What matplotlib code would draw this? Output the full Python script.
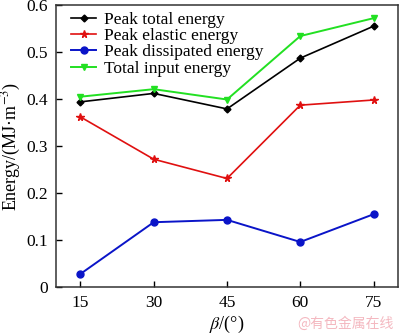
import matplotlib
matplotlib.use("Agg")
import matplotlib.pyplot as plt

# dip angle beta (deg)
beta = [15, 30, 45, 60, 75]

peak_total = [0.394, 0.412, 0.379, 0.487, 0.555]
peak_elastic = [0.362, 0.272, 0.231, 0.387, 0.398]
peak_dissipated = [0.028, 0.138, 0.143, 0.096, 0.155]
total_input = [0.405, 0.421, 0.399, 0.534, 0.572]

x_ticks = [15, 30, 45, 60, 75]
y_ticks = [0, 0.1, 0.2, 0.3, 0.4, 0.5, 0.6]
y_tick_labels = ["0", "0.1", "0.2", "0.3", "0.4", "0.5", "0.6"]

plt.rcParams["font.family"] = ["Liberation Serif", "DejaVu Serif"]
plt.rcParams["mathtext.fontset"] = "stix"

fig = plt.figure(figsize=(4.0, 3.35), dpi=100)
ax = fig.add_axes([0.14, 0.143, 0.855, 0.842])

ax.plot(beta, peak_total, color="black", marker="D", markersize=3.5, lw=1.2,
        label="Peak total energy")
ax.plot(beta, peak_elastic, color="#e01010", marker="*", markersize=5.5, lw=1.2,
        label="Peak elastic energy")
ax.plot(beta, peak_dissipated, color="#0a14c8", marker="o", markersize=5, lw=1.4,
        label="Peak dissipated energy")
ax.plot(beta, total_input, color="#22e022", marker="v", markersize=5, lw=1.4,
        label="Total input energy")

ax.set_xlim(10, 80)
ax.set_ylim(0, 0.6)
ax.set_xticks(x_ticks)
ax.set_yticks(y_ticks)
ax.set_yticklabels(y_tick_labels)
ax.tick_params(direction="in", length=4, width=1, labelsize=12.5, pad=6)
for sp in ax.spines.values():
    sp.set_linewidth(1.1)
    sp.set_color("#333333")

ax.set_xlabel(r"$\it{\beta}$/(°)", fontsize=13, labelpad=2)
ax.set_ylabel(r"Energy/(MJ·m$^{-3}$)", fontsize=13, labelpad=2)

ax.legend(loc="upper left", frameon=False, fontsize=12.5, handlelength=1.4,
          handletextpad=0.45, labelspacing=0.0, borderaxespad=0.0,
          bbox_to_anchor=(0.025, 1.0))

fig.text(0.985, 0.012, "@有色金属在线", color="#f4b8c0", fontsize=10,
         ha="right", va="bottom", family=["Noto Sans CJK SC", "DejaVu Sans"])

fig.savefig("out.png", dpi=100)
